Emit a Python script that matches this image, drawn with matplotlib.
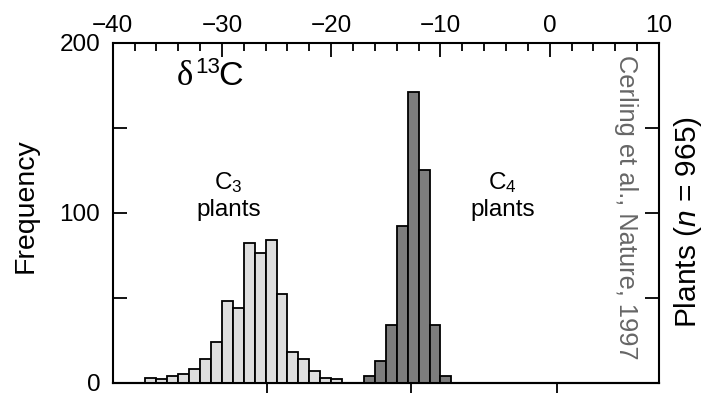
import numpy as np
import matplotlib
matplotlib.use('Agg')
import matplotlib.pyplot as plt

plt.rcParams['font.family'] = ['Liberation Sans', 'DejaVu Sans']
plt.rcParams['mathtext.fontset'] = 'custom'
plt.rcParams['mathtext.rm'] = 'Liberation Sans'
plt.rcParams['mathtext.it'] = 'Liberation Sans:italic'

# ---------------------------------------------------------------------------
# Data (1 per mil bins, left edges)
c3_left = [-37, -36, -35, -34, -33, -32, -31, -30, -29,
           -28, -27, -26, -25, -24, -23, -22, -21, -20]
c3_count = [3, 2, 4, 5, 8, 14, 24, 48, 44,
            82, 76, 84, 52, 18, 14, 7, 3, 2]

c4_left = [-17, -16, -15, -14, -13, -12, -11, -10]
c4_count = [4, 13, 34, 92, 171, 125, 34, 4]

top_major = [-40, -30, -20, -10, 0, 10]
top_minor = list(range(-40, 11, 2))
y_ticks = [0, 50, 100, 150, 200]
y_labels = ['0', '', '100', '', '200']
bottom_ticks = [-25.9, -12.7, 0.7]   # ticks of the (unlabelled) lower axis

W, H = 706, 396

# ---------------------------------------------------------------------------
fig = plt.figure(figsize=(W / 100, H / 100), dpi=100)
ax = fig.add_axes([0.1596, 0.0336, 0.7738, 0.8586])

ax.bar(c3_left, c3_count, width=1, align='edge', color='#dedede',
       edgecolor='black', linewidth=1.3)
ax.bar(c4_left, c4_count, width=1, align='edge', color='#7d7d7d',
       edgecolor='black', linewidth=1.3)

ax.set_xlim(-40, 10)
ax.set_ylim(0, 200)

for s in ax.spines.values():
    s.set_linewidth(1.5)

# top axis
ax.xaxis.set_ticks_position('top')
ax.set_xticks(top_major)
ax.set_xticks(top_minor, minor=True)
ax.tick_params(axis='x', which='major', direction='in', length=10, width=1.3,
               labelsize=17.5, pad=4, top=True, bottom=False,
               labeltop=True, labelbottom=False)
ax.tick_params(axis='x', which='minor', direction='in', length=5.5, width=1.3,
               top=True, bottom=False)

# y axes
ax.set_yticks(y_ticks)
ax.set_yticklabels(y_labels)
ax.tick_params(axis='y', direction='in', length=10, width=1.3,
               labelsize=17.5, pad=9, left=True, right=True)

# bottom axis, ticks only
sec = ax.secondary_xaxis('bottom')
sec.set_xticks(bottom_ticks)
sec.set_xticklabels(['', '', ''])
sec.tick_params(direction='out', length=7, width=1.3)
sec.spines['bottom'].set_linewidth(1.5)

# delta 13 C heading, built from pieces
fig.text(177 / W, 1 - 85 / H, 'δ', fontsize=25, family='Liberation Serif',
         ha='left', va='baseline')
fig.text(195 / W, 1 - 73 / H, '13', fontsize=16, ha='left', va='baseline')
fig.text(218 / W, 1 - 85 / H, 'C', fontsize=24.5, ha='left', va='baseline')

for xc, sub in [(-29.4, '3'), (-4.3, '4')]:
    ax.text(xc, 114, r'C$_%s$' % sub, fontsize=17.5, ha='center', va='baseline')
    ax.text(xc, 98.3, 'plants', fontsize=17.5, ha='center', va='baseline')

ax.text(7.0, 103, 'Cerling et al., Nature, 1997', fontsize=18.3,
        color='#666666', rotation=270, ha='center', va='center')

fig.text(0.0368, 0.482, 'Frequency', fontsize=20.5, rotation=90,
         ha='center', va='center')
fig.text(0.974, 0.44, r'Plants ($n$ = 965)', fontsize=21.5, rotation=90,
         ha='center', va='center')

fig.savefig('out.png', dpi=100)
